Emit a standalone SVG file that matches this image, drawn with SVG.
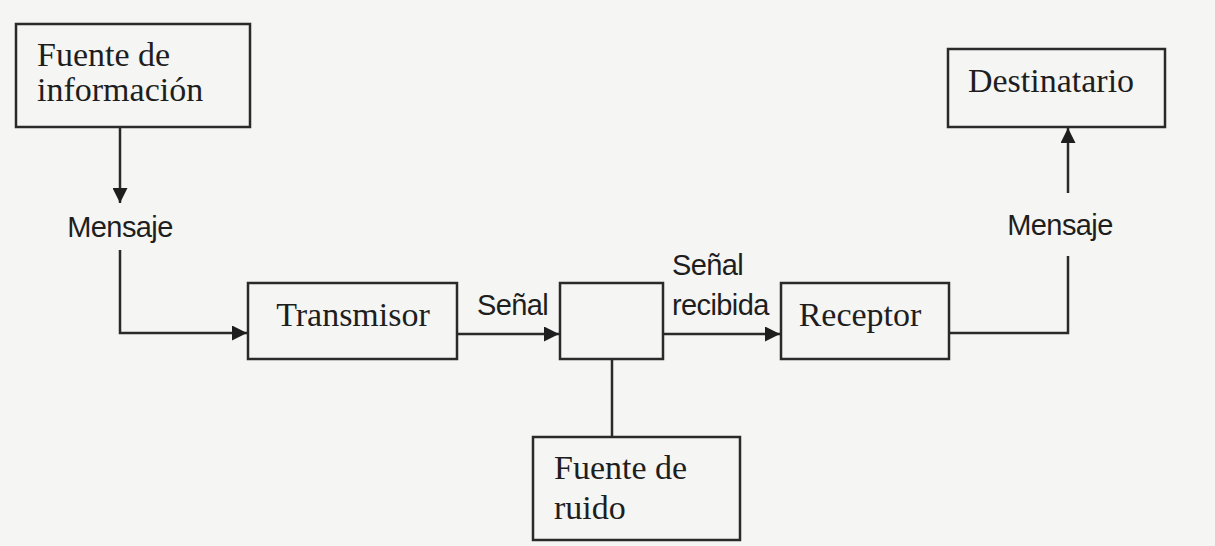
<svg xmlns="http://www.w3.org/2000/svg" width="1215" height="546" viewBox="0 0 1215 546">
<style>
.box{fill:none;stroke:#2a2a2a;stroke-width:2.5}
.lbl{font-family:"Liberation Serif","Times New Roman",serif;font-size:34px;fill:#1e1e1e}
.sig{font-family:"Liberation Sans",Arial,sans-serif;font-size:29px;fill:#1e1e1e;letter-spacing:-0.6px}
.ln{fill:none;stroke:#2a2a2a;stroke-width:2.5}
</style>
<defs>
<marker id="ah" viewBox="0 0 10 10" refX="10" refY="5" markerWidth="6" markerHeight="6" markerUnits="strokeWidth" orient="auto">
<path d="M0,0 L10,5 L0,10 z" fill="#1e1e1e"/>
</marker>
</defs>
<rect width="1215" height="546" fill="#f5f5f3"/>
<g id="connectors">
<path class="ln" d="M120,127 V203" marker-end="url(#ah)"/>
<path class="ln" d="M120,250 V333 H247" marker-end="url(#ah)"/>
<path class="ln" d="M457,334 H559" marker-end="url(#ah)"/>
<path class="ln" d="M663,334 H780" marker-end="url(#ah)"/>
<path class="ln" d="M612,359 V437"/>
<path class="ln" d="M949,333 H1068 V256"/>
<path class="ln" d="M1068,193 V128" marker-end="url(#ah)"/>
<text class="sig" x="120" y="237" text-anchor="middle">Mensaje</text>
<text class="sig" x="1060" y="235" text-anchor="middle">Mensaje</text>
<text class="sig" x="477" y="315">Señal</text>
<text class="sig" x="672" y="275">Señal</text>
<text class="sig" x="672" y="315">recibida</text>
</g>
<g id="fuente-info">
<rect class="box" x="16" y="24" width="234" height="103"/>
<text class="lbl" x="37" y="66">Fuente de</text>
<text class="lbl" x="37" y="101">información</text>
</g>
<g id="transmisor">
<rect class="box" x="248" y="283" width="209" height="76"/>
<text class="lbl" x="353" y="326" text-anchor="middle">Transmisor</text>
</g>
<g id="canal">
<rect class="box" x="560" y="283" width="103" height="76"/>
</g>
<g id="fuente-ruido">
<rect class="box" x="533" y="437" width="207" height="103"/>
<text class="lbl" x="554" y="479">Fuente de</text>
<text class="lbl" x="554" y="519">ruido</text>
</g>
<g id="receptor">
<rect class="box" x="781" y="283" width="168" height="76"/>
<text class="lbl" x="860" y="326" text-anchor="middle">Receptor</text>
</g>
<g id="destinatario">
<rect class="box" x="948" y="49" width="217" height="78"/>
<text class="lbl" x="1051" y="92" text-anchor="middle">Destinatario</text>
</g>
</svg>
